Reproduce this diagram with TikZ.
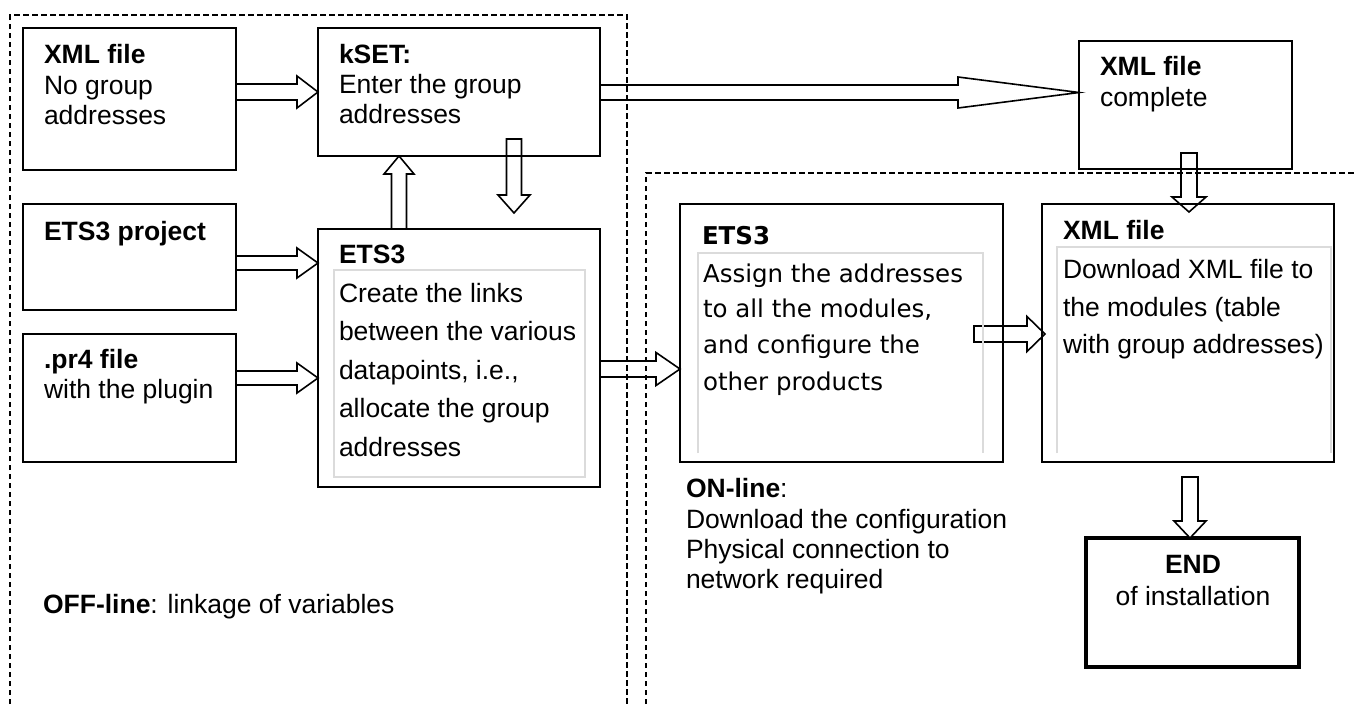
\documentclass[tikz,border=0pt]{standalone}
\usepackage{fontspec}
\setmainfont{Liberation Sans}
\newfontfamily\comicfont{DejaVu Sans}
\usetikzlibrary{calc}
\newcommand\blockarrow[5]{%
  \coordinate (ba-h) at ($(#2)!#5!(#1)$);
  \draw[barrow] ($(#1)!#3!90:(#2)$) -- ($(ba-h)!#3!90:(#2)$) -- ($(ba-h)!#4!90:(#2)$) -- (#2)
     -- ($(ba-h)!#4!-90:(#2)$) -- ($(ba-h)!#3!-90:(#2)$) -- ($(#1)!#3!-90:(#2)$) -- cycle;
}
\begin{document}
\begin{tikzpicture}[x=1pt,y=-1pt,
  bx/.style={draw, line width=1.8pt, inner sep=0pt, outer sep=0pt},
  endbx/.style={bx, line width=3.5pt},
  barrow/.style={draw, fill=white, line width=1.6pt, line join=miter},
  innerbx/.style={draw=black!14, line width=1.4pt},
  dashline/.style={draw, line width=1.3pt, dash pattern=on 5.5pt off 3.5pt},
  txt/.style={anchor=base west, inner sep=0pt, outer sep=0pt, font=\fontsize{26.5}{30}\selectfont},
  btxt/.style={txt, font=\fontsize{26.5}{30}\selectfont\bfseries},
  ctxt/.style={anchor=base west, inner sep=0pt, outer sep=0pt, font=\comicfont\fontsize{24.5}{30}\selectfont},
  cbtxt/.style={ctxt, font=\comicfont\fontsize{24.5}{30}\selectfont\bfseries},
  ctr/.style={txt, anchor=base},
  bctr/.style={btxt, anchor=base}
]
\useasboundingbox (0,0) rectangle (1357,704);

% boxes
\node[bx, minimum width=213pt, minimum height=142pt] (xmlA) at (129.5,99) {};
\node[bx, minimum width=282pt, minimum height=128pt] (kset) at (459,92) {};
\node[bx, minimum width=213pt, minimum height=106pt] (etsproj) at (129.5,257) {};
\node[bx, minimum width=213pt, minimum height=128pt] (pr4) at (129.5,398) {};
\node[bx, minimum width=282pt, minimum height=258pt] (etsL) at (459,358) {};
\node[bx, minimum width=213pt, minimum height=128pt] (xmlC) at (1185.5,105) {};
\node[bx, minimum width=323pt, minimum height=258pt] (etsR) at (841.5,333) {};
\node[bx, minimum width=292pt, minimum height=258pt] (xmlR) at (1188,333) {};
\node[endbx, minimum width=213pt, minimum height=129pt] (endB) at (1192.5,602.5) {};

% block arrows
\coordinate (a1s) at (xmlA.east |- 0,92);
\coordinate (a1e) at (kset.west |- 0,92);
\blockarrow{a1s}{a1e}{8pt}{16pt}{21pt}
\coordinate (a2s) at (etsproj.east |- 0,263);
\coordinate (a2e) at (etsL.west |- 0,263);
\blockarrow{a2s}{a2e}{7pt}{15pt}{21pt}
\coordinate (a3s) at (pr4.east |- 0,378);
\coordinate (a3e) at (etsL.west |- 0,378);
\blockarrow{a3s}{a3e}{7pt}{15pt}{21pt}
\coordinate (a4s) at (etsL.north -| 399,0);
\coordinate (a4e) at (kset.south -| 399,0);
\blockarrow{a4s}{a4e}{7.5pt}{15pt}{18pt}
\coordinate (a5s) at ($(kset.south -| 514,0)+(0,-17)$);
\coordinate (a5e) at ($(etsL.north -| 514,0)+(0,-16)$);
\blockarrow{a5s}{a5e}{7.5pt}{16pt}{18pt}
\coordinate (a6s) at (kset.east |- 0,92.5);
\coordinate (a6e) at (xmlC.west |- 0,92.5);
\blockarrow{a6s}{a6e}{7.5pt}{15.5pt}{121pt}
\coordinate (a7s) at ($(xmlC.south -| 1189,0)+(0,-16)$);
\coordinate (a7e) at ($(xmlR.north -| 1189,0)+(0,8)$);
\blockarrow{a7s}{a7e}{8pt}{17pt}{15pt}
\coordinate (a8s) at (etsL.east |- 0,369);
\coordinate (a8e) at (etsR.west |- 0,369);
\blockarrow{a8s}{a8e}{8pt}{16.5pt}{24pt}
\coordinate (a9s) at ($(etsR.east |- 0,334)+(-29,0)$);
\coordinate (a9e) at ($(xmlR.west |- 0,334)+(3,0)$);
\blockarrow{a9s}{a9e}{8pt}{17.5pt}{18pt}
\coordinate (a10s) at ($(xmlR.south -| 1190,0)+(0,15)$);
\coordinate (a10e) at (endB.north -| 1190,0);
\blockarrow{a10s}{a10e}{8pt}{16pt}{17pt}

% redraw box borders over arrows
\foreach \b in {xmlA,kset,etsproj,pr4,etsL,xmlC,etsR,xmlR}{
  \draw[line width=1.8pt] (\b.north west) rectangle (\b.south east);
}

% inner grey frames
\draw[innerbx] (334,270) rectangle (585,477);
\draw[innerbx] (698,453) -- (698,253) -- (983,253) -- (983,453);
\draw[innerbx] (1057,453) -- (1057,247) -- (1331,247) -- (1331,453);

% dashed regions
\draw[dashline] (10,704) -- (10,15) -- (627,15) -- (627,704);
\draw[dashline] (646,704) -- (646,173) -- (1357,173);

% texts
\node[btxt] (tA1) at (44,63) {XML file};
\node[txt]  (tA2) at (44,94) {No group};
\node[txt]  (tA3) at (44,124) {addresses};

\node[btxt] (tK1) at (339,63) {kSET:};
\node[txt]  (tK2) at (339,93) {Enter the group};
\node[txt]  (tK3) at (339,123) {addresses};

\node[btxt] (tP1) at (44,240) {ETS3 project};

\node[btxt] (tR1) at (44,368) {.pr4 file};
\node[txt]  (tR2) at (44,398) {with the plugin};

\node[btxt] (tL1) at (339,263) {ETS3};
\node[txt]  (tL2) at (339,302) {Create the links};
\node[txt]  (tL3) at (339,340) {between the various};
\node[txt]  (tL4) at (339,379) {datapoints, i.e.,};
\node[txt]  (tL5) at (339,417) {allocate the group};
\node[txt]  (tL6) at (339,456) {addresses};

\node[btxt] (tC1) at (1100,75) {XML file};
\node[txt]  (tC2) at (1100,106) {complete};

\node[cbtxt] (tE1) at (702,244) {ETS3};
\node[ctxt]  (tE2) at (703,282) {Assign the addresses};
\node[ctxt]  (tE3) at (703,317) {to all the modules,};
\node[ctxt]  (tE4) at (703,353) {and configure the};
\node[ctxt]  (tE5) at (703,390) {other products};

\node[btxt] (tX1) at (1063,239) {XML file};
\node[txt]  (tX2) at (1063,278) {Download XML file to};
\node[txt]  (tX3) at (1063,316) {the modules (table};
\node[txt]  (tX4) at (1063,353) {with group addresses)};

\node[txt] (tO1) at (686,497) {\textbf{ON-line}:};
\node[txt] (tO2) at (686,528) {Download the configuration};
\node[txt] (tO3) at (686,558) {Physical connection to};
\node[txt] (tO4) at (686,588) {network required};

\node[txt] (tF1) at (43,613) {\textbf{OFF-line}: linkage of variables};

\node[bctr] (tN1) at (1193,573) {END};
\node[ctr]  (tN2) at (1193,605) {of installation};
\end{tikzpicture}
\end{document}
